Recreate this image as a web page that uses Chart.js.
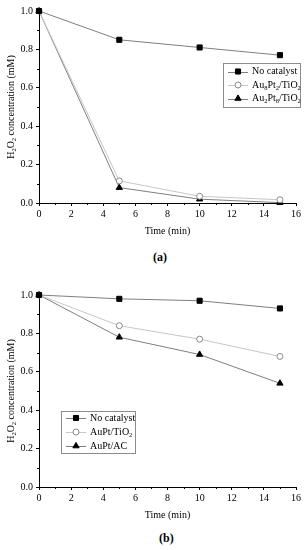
<!DOCTYPE html>
<html>
<head>
<meta charset="utf-8">
<script src="https://cdn.jsdelivr.net/npm/chart.js@4.4.1/dist/chart.umd.min.js"></script>
<style>
  body { margin: 0; background: #fff; }
  #page { position: relative; width: 306px; height: 550px; }
  .wrap { position: absolute; left: 0; width: 306px; }
  .cap { position: absolute; font: bold 12px "Liberation Serif", serif; color: #000; }
</style>
</head>
<body>
<div id="page">
  <div class="wrap" style="top:0;height:240px"><canvas id="chartA"></canvas></div>
  <div class="cap" style="top:250px;left:153px">(a)</div>
  <div class="wrap" style="top:270px;height:255px"><canvas id="chartB"></canvas></div>
  <div class="cap" style="top:531px;left:159px">(b)</div>
</div>
<script>
// time points (min)
const times = [0, 5, 10, 15];

// (a) H2O2 concentration (mM)
const aNoCatalyst = [1.0, 0.85, 0.81, 0.77];
const aAu8Pt2 = [1.0, 0.115, 0.035, 0.017];
const aAu2Pt8 = [1.0, 0.08, 0.02, 0.002];

// (b)
const bNoCatalyst = [1.0, 0.98, 0.97, 0.93];
const bAuPtTiO2 = [1.0, 0.84, 0.77, 0.68];
const bAuPtAC = [1.0, 0.78, 0.69, 0.54];

const labelsA = ['No catalyst', 'Au_8Pt_2/TiO_2', 'Au_2Pt_8/TiO_2'];
const labelsB = ['No catalyst', 'AuPt/TiO_2', 'AuPt/AC'];

const xMinorTicks = [1, 3, 5, 7, 9, 11, 13, 15];
const yMinorTicks = [0.1, 0.3, 0.5, 0.7, 0.9];

const serif = '"Liberation Serif", "Times New Roman", serif';

// draws text where "_x" means subscript x, returns width
function richText(ctx, str, x, y, size, measureOnly) {
  const parts = str.split(/(_\w)/).filter(p => p.length);
  let w = 0;
  parts.forEach(p => {
    const sub = p[0] === '_';
    const t = sub ? p.slice(1) : p;
    ctx.font = (sub ? size * 0.65 : size) + 'px ' + serif;
    if (!measureOnly) ctx.fillText(t, x + w, y + (sub ? size * 0.3 : 0));
    w += ctx.measureText(t).width;
  });
  return w;
}

const decor = {
  id: 'decor',
  afterDraw(chart, args, opts) {
    const ctx = chart.ctx;
    const xs = chart.scales.x, ys = chart.scales.y;
    const area = chart.chartArea;
    ctx.save();
    // minor ticks
    ctx.strokeStyle = '#000';
    ctx.lineWidth = 1;
    ctx.beginPath();
    xMinorTicks.forEach(v => {
      const px = Math.round(xs.getPixelForValue(v)) + 0.5;
      ctx.moveTo(px, area.bottom);
      ctx.lineTo(px, area.bottom + 2);
    });
    yMinorTicks.forEach(v => {
      const py = Math.round(ys.getPixelForValue(v)) + 0.5;
      ctx.moveTo(area.left - 2, py);
      ctx.lineTo(area.left, py);
    });
    ctx.stroke();

    // y axis title
    ctx.fillStyle = '#000';
    ctx.textBaseline = 'middle';
    ctx.textAlign = 'left';
    const title = 'H_2O_2 concentration (mM)';
    const tw = richText(ctx, title, 0, 0, 10, true);
    ctx.save();
    ctx.translate(11, (area.top + area.bottom) / 2);
    ctx.rotate(-Math.PI / 2);
    richText(ctx, title, -tw / 2, 0, 10);
    ctx.restore();

    // legend
    const lg = opts.legend;
    ctx.strokeStyle = '#8c8c8c';
    ctx.strokeRect(lg.left + 0.5, lg.top + 0.5, lg.width, lg.height);
    chart.data.datasets.forEach((ds, i) => {
      const y = lg.top + lg.first + i * lg.rowH;
      ctx.strokeStyle = ds.borderColor;
      ctx.lineWidth = 1;
      ctx.beginPath();
      ctx.moveTo(lg.left + 5, Math.round(y) + 0.5);
      ctx.lineTo(lg.left + 25, Math.round(y) + 0.5);
      ctx.stroke();
      ctx.fillStyle = ds.pointBackgroundColor;
      ctx.strokeStyle = ds.pointBorderColor;
      Chart.helpers.drawPoint(ctx, {
        pointStyle: ds.pointStyle, radius: ds.pointRadius, rotation: 0, borderWidth: 1
      }, lg.left + 15, y);
      ctx.fillStyle = '#000';
      richText(ctx, ds.label, lg.left + 29, y, 10);
    });
    ctx.restore();
  }
};

function series(labels, values) {
  const styles = [
    { line: '#7f7f7f', style: 'rect', r: 3.6, fill: '#000', edge: '#000' },
    { line: '#c6c6c6', style: 'circle', r: 3, fill: '#fff', edge: '#8a8a8a' },
    { line: '#7f7f7f', style: 'triangle', r: 3.6, fill: '#000', edge: '#000' }
  ];
  return values.map((vals, i) => ({
    label: labels[i],
    data: times.map((t, k) => ({ x: t, y: vals[k] })),
    borderColor: styles[i].line,
    borderWidth: 1,
    pointStyle: styles[i].style,
    pointRadius: styles[i].r,
    pointBackgroundColor: styles[i].fill,
    pointBorderColor: styles[i].edge,
    pointBorderWidth: 1,
    tension: 0,
    clip: false
  }));
}

function makeChart(id, datasets, padTop, xHeight, titlePad, legend) {
  new Chart(document.querySelector(id), {
    type: 'line',
    data: { datasets: datasets },
    options: {
      responsive: true,
      maintainAspectRatio: false,
      animation: false,
      layout: { padding: { top: padTop, right: 10, left: 0, bottom: 0 } },
      plugins: {
        legend: { display: false },
        tooltip: { enabled: false },
        decor: { legend: legend }
      },
      scales: {
        x: {
          type: 'linear', min: 0, max: 16,
          ticks: { stepSize: 2, color: '#000', font: { family: serif, size: 10 }, padding: 2, maxRotation: 0 },
          grid: { drawOnChartArea: false, tickLength: 3, color: '#000' },
          border: { color: '#000', width: 1 },
          title: { display: true, text: 'Time (min)', color: '#000', font: { family: serif, size: 10 }, padding: { top: 0, bottom: titlePad } },
          afterFit(s) { s.height = xHeight; }
        },
        y: {
          min: 0, max: 1,
          ticks: { stepSize: 0.2, color: '#000', font: { family: serif, size: 10 }, padding: 3, callback: v => v.toFixed(1) },
          grid: { drawOnChartArea: false, tickLength: 3, color: '#000' },
          border: { color: '#000', width: 1 },
          afterFit(s) { s.width = 39; }
        }
      }
    },
    plugins: [decor]
  });
}

makeChart('#chartA', series(labelsA, [aNoCatalyst, aAu8Pt2, aAu2Pt8]), 11, 37, 3,
  { left: 223, top: 63, width: 77, height: 44, rowH: 13.5, first: 8.5 });
makeChart('#chartB', series(labelsB, [bNoCatalyst, bAuPtTiO2, bAuPtAC]), 25, 38, 4,
  { left: 61, top: 141, width: 74, height: 42, rowH: 14, first: 7 });
</script>
</body>
</html>
